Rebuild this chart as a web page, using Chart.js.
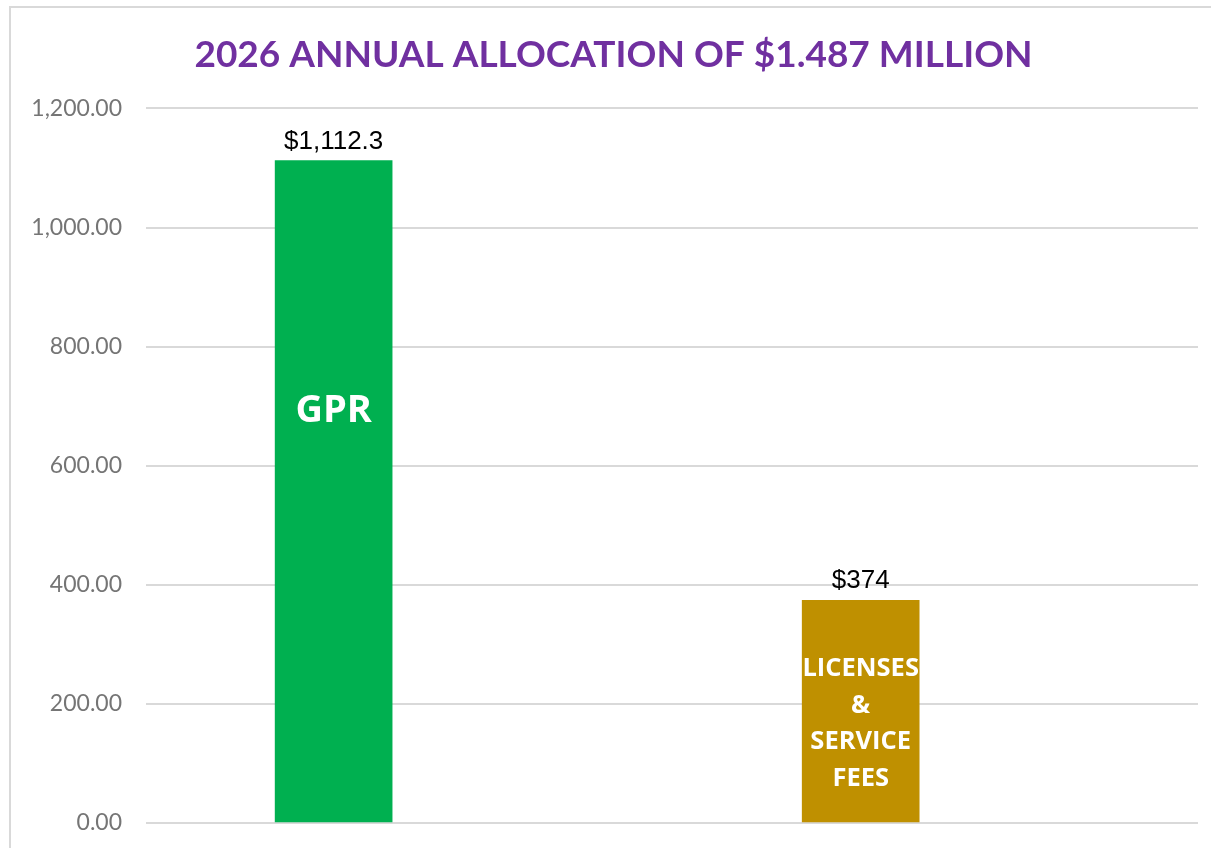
<!DOCTYPE html>
<html>
<head>
<meta charset="utf-8">
<script src="https://cdn.jsdelivr.net/npm/chart.js@4.4.1/dist/chart.umd.min.js"></script>
<style>
  html, body { margin: 0; padding: 0; background: #ffffff; }
  #wrap { position: relative; width: 1211px; height: 848px; }
  #frame { position: absolute; left: 9px; top: 6px; right: 0; bottom: 0; border-top: 2px solid #d9d9d9; border-left: 2px solid #d9d9d9; pointer-events: none; }
  canvas { display: block; }
</style>
</head>
<body>
<div id="wrap">
  <canvas id="c" width="1211" height="848"></canvas>
  <div id="frame"></div>
</div>
<script>
const titleText = '2026 ANNUAL ALLOCATION OF $1.487 MILLION';
const categories = ['GPR', 'LICENSES & SERVICE FEES'];
const categoryLines = [['GPR'], ['LICENSES', '&', 'SERVICE', 'FEES']];
const values = [1112.3, 374];
const valueLabels = ['$1,112.3', '$374'];
const barColors = ['#00B050', '#BF9000'];
const yTicks = [0, 200, 400, 600, 800, 1000, 1200];

const labelPlugin = {
  id: 'barLabels',
  afterDatasetsDraw(chart) {
    const ctx = chart.ctx;
    const meta = chart.getDatasetMeta(0);
    const yScale = chart.scales.y;
    meta.data.forEach((bar, i) => {
      ctx.save();
      ctx.textAlign = 'center';
      ctx.textBaseline = 'bottom';
      ctx.fillStyle = '#000000';
      ctx.font = '26px "Liberation Sans", Arial, sans-serif';
      ctx.fillText(valueLabels[i], bar.x, bar.y - 6);
      ctx.fillStyle = '#ffffff';
      const lines = categoryLines[i];
      ctx.textBaseline = 'middle';
      if (lines.length === 1) {
        ctx.font = 'bold 38px "Open Sans", sans-serif';
        ctx.fillText(lines[0], bar.x, yScale.getPixelForValue(692));
      } else {
        ctx.font = 'bold 25.5px "Open Sans", sans-serif';
        const lh = 36.7;
        const y0 = yScale.getPixelForValue(259);
        lines.forEach((ln, k) => ctx.fillText(ln, bar.x, y0 + k * lh));
      }
      ctx.restore();
    });
  }
};

new Chart(document.getElementById('c'), {
  type: 'bar',
  data: {
    labels: categories,
    datasets: [{
      data: categories.map((c, i) => ({ x: i, y: values[i] })),
      backgroundColor: barColors,
      borderWidth: 0,
      barThickness: 117
    }]
  },
  options: {
    responsive: false,
    animation: false,
    layout: { padding: { left: 29, right: 13, top: 0, bottom: 25 } },
    plugins: {
      legend: { display: false },
      tooltip: { enabled: false },
      title: {
        display: true,
        text: titleText,
        color: '#7030A0',
        font: { family: 'Lato, sans-serif', size: 37, weight: 'bold', lineHeight: 1.2 },
        padding: { top: 33, bottom: 31 }
      }
    },
    scales: {
      x: {
        type: 'linear',
        display: false,
        offset: false,
        min: -0.356,
        max: 1.64,
        grid: { display: false }
      },
      y: {
        min: 0,
        max: 1200,
        afterBuildTicks: (s) => { s.ticks = yTicks.map(v => ({ value: v })); },
        afterFit: (s) => { s.width = 117; s.paddingTop = 0; s.paddingBottom = 0; },
        border: { display: false },
        grid: { color: '#d9d9d9', lineWidth: 2, drawTicks: false },
        ticks: {
          padding: 24,
          color: '#757575',
          font: { family: 'Lato, sans-serif', size: 23 },
          callback: (v) => v.toLocaleString('en-US', { minimumFractionDigits: 2, maximumFractionDigits: 2 })
        }
      }
    }
  },
  plugins: [labelPlugin]
});
</script>
</body>
</html>
